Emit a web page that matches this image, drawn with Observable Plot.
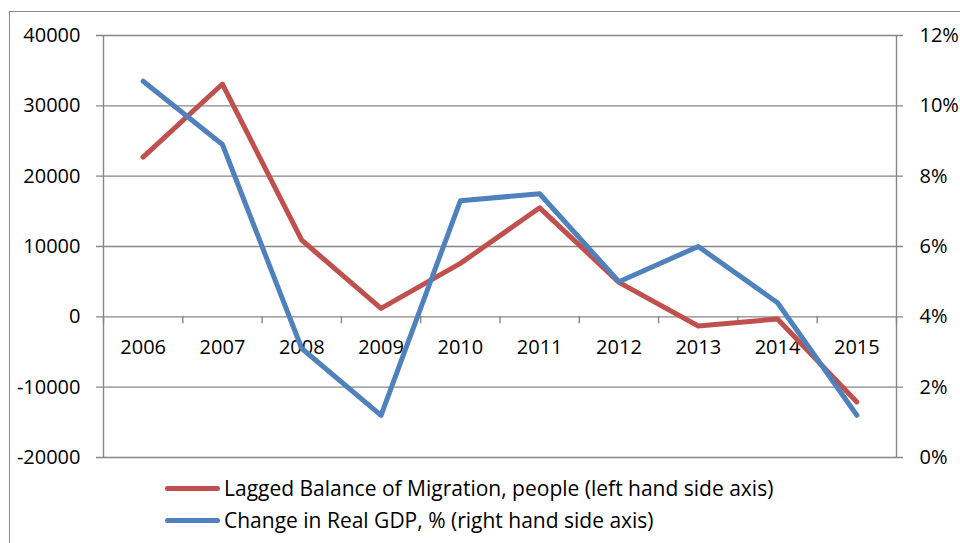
<!DOCTYPE html>
<html>
<head>
<meta charset="utf-8">
<script src="https://cdn.jsdelivr.net/npm/d3@7"></script>
<script src="https://cdn.jsdelivr.net/npm/@observablehq/plot@0.6"></script>
<style>
  html, body { margin: 0; padding: 0; background: #fff; overflow: hidden; }
  #wrap { position: relative; width: 960px; height: 543px; overflow: hidden; font-family: "Open Sans", "Liberation Sans", Arial, sans-serif; }
  #frame { position: absolute; left: 9px; top: 11px; width: 1000px; height: 600px; border: 1px solid #8a8a8a; box-sizing: border-box; }
  #chart { position: absolute; left: 0; top: 0; }
  .leg { position: absolute; left: 165px; display: flex; align-items: center; height: 24px; font-size: 21px; line-height: 24px; color: #000; white-space: nowrap; }
  .sw { width: 55px; height: 5px; border-radius: 3px; margin-right: 4px; }
</style>
</head>
<body>
<div id="wrap">
  <div id="frame"></div>
  <div id="chart"></div>
  <div class="leg" id="leg1" style="top:476px"></div>
  <div class="leg" id="leg2" style="top:508px"></div>
</div>
<script>
const years = ["2006","2007","2008","2009","2010","2011","2012","2013","2014","2015"];
const migration = [22700, 33100, 10900, 1200, 7600, 15500, 4900, -1300, -300, -12100];
const gdpChange = [10.7, 8.9, 3.1, 1.2, 7.3, 7.5, 5.0, 6.0, 4.4, 1.2];
const leftTicks = [-20000, -10000, 0, 10000, 20000, 30000, 40000];
const rightTicks = [0, 2, 4, 6, 8, 10, 12];
const seriesNames = ["Lagged Balance of Migration, people (left hand side axis)", "Change in Real GDP, % (right hand side axis)"];
const colors = ["#C0504D", "#4F81BD"];

// map right-axis percent onto left-axis units
const pctToLeft = p => -20000 + (p - rightTicks[0]) / (rightTicks[rightTicks.length-1] - rightTicks[0]) * 60000;
const leftToPct = v => rightTicks[0] + (v + 20000) / 60000 * (rightTicks[rightTicks.length-1] - rightTicks[0]);

const idx = years.map((_, i) => i);
const migData = idx.map(i => ({x: i, y: migration[i]}));
const gdpData = idx.map(i => ({x: i, y: pctToLeft(gdpChange[i])}));
const boundaries = d3.range(0, years.length + 1).map(i => i - 0.5);
const grey = "#868686";
const font = "'Open Sans', 'Liberation Sans', Arial, sans-serif";

const chart = Plot.plot({
  width: 960,
  height: 543,
  marginLeft: 103,
  marginRight: 64,
  marginTop: 35,
  marginBottom: 86,
  x: {domain: [-0.5, years.length - 0.5], axis: null},
  y: {domain: [leftTicks[0], leftTicks[leftTicks.length-1]], axis: null},
  style: {fontFamily: font, fontSize: "20px", color: "#000", background: "transparent", overflow: "visible"},
  marks: [
    Plot.ruleY(leftTicks, {stroke: grey, strokeWidth: 1.4, insetLeft: -7, insetRight: -7}),
    Plot.ruleX([boundaries[0], boundaries[boundaries.length-1]], {stroke: grey, strokeWidth: 1.4}),
    Plot.ruleX(boundaries, {x: d => d, y1: 0, y2: -1000, stroke: grey, strokeWidth: 1.4}),
    Plot.axisY({anchor: "left", ticks: leftTicks, tickSize: 0, tickPadding: 23, tickFormat: d => String(d), fontSize: 20, label: null}),
    Plot.axisY({anchor: "right", ticks: leftTicks, tickSize: 0, tickPadding: 23, tickFormat: d => Math.round(leftToPct(d)) + "%", fontSize: 20, label: null}),
    Plot.text(idx, {x: d => d, y: 0, text: d => years[d], dy: 31, fontSize: 20, fill: "#000"}),
    Plot.line(migData, {x: "x", y: "y", stroke: colors[0], strokeWidth: 5, strokeLinejoin: "round", strokeLinecap: "round"}),
    Plot.line(gdpData, {x: "x", y: "y", stroke: colors[1], strokeWidth: 5, strokeLinejoin: "round", strokeLinecap: "round"})
  ]
});
document.getElementById("chart").appendChild(chart);

["leg1", "leg2"].forEach((id, i) => {
  const el = document.getElementById(id);
  const sw = document.createElement("span");
  sw.className = "sw";
  sw.style.background = colors[i];
  el.appendChild(sw);
  const t = document.createElement("span");
  t.textContent = seriesNames[i];
  el.appendChild(t);
});
</script>
</body>
</html>
